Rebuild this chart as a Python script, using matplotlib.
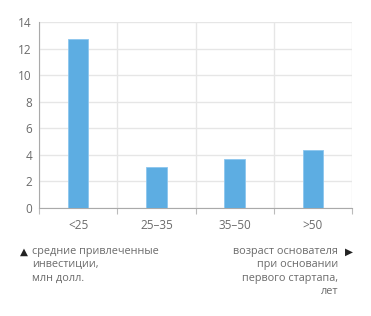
import numpy as np
import matplotlib.pyplot as plt

categories = ['<25', '25–35', '35–50', '>50']
values = [12.7, 3.05, 3.65, 4.35]
yticks = [0, 2, 4, 6, 8, 10, 12, 14]

plt.rcParams['font.family'] = ['Open Sans', 'DejaVu Sans']
txt = '#6b6b6b'

fig = plt.figure(figsize=(3.71, 3.16), dpi=100)
ax = fig.add_axes([0.105, 0.342, 0.844, 0.588])

x = np.arange(len(categories))
ax.bar(x, values, width=0.26, color='#5dade2', edgecolor='#8cc6ee', linewidth=0.6, zorder=3)

ax.set_xlim(-0.5, len(categories) - 0.5)
ax.set_ylim(0, 14)
ax.set_yticks(yticks)
ax.set_xticks(x)
ax.set_xticklabels(categories)
ax.set_xticks(np.arange(len(categories) + 1) - 0.5, minor=True)

ax.tick_params(axis='x', which='major', length=0, pad=8, labelsize=8.5, labelcolor=txt)
ax.tick_params(axis='x', which='minor', length=4, width=0.8, color='#bbbbbb')
ax.tick_params(axis='y', length=0, pad=5, labelsize=8.5, labelcolor=txt)

ax.grid(axis='y', which='major', color='#e6e6e6', linewidth=1, zorder=0)
ax.grid(axis='x', which='minor', color='#e6e6e6', linewidth=1, zorder=0)

for s in ['top', 'right']:
    ax.spines[s].set_visible(False)
ax.spines['left'].set_color('#aaaaaa')
ax.spines['bottom'].set_color('#aaaaaa')

fig.text(24 / 371, 1 - 252 / 316, '▲', fontsize=7.5, color='#222222', va='center', ha='center',
         family='DejaVu Sans')
fig.text(32 / 371, 1 - 246 / 316, 'средние привлеченные\nинвестиции,\nмлн долл.',
         fontsize=7.8, color=txt, va='top', ha='left', linespacing=1.3)
fig.text(349 / 371, 1 - 252 / 316, '▶', fontsize=7.5, color='#222222', va='center', ha='center',
         family='DejaVu Sans')
fig.text(338 / 371, 1 - 246 / 316, 'возраст основателя\nпри основании\nпервого стартапа,\nлет',
         fontsize=7.8, color=txt, va='top', ha='right', linespacing=1.3, multialignment='right')

fig.savefig('out.png', dpi=100)
